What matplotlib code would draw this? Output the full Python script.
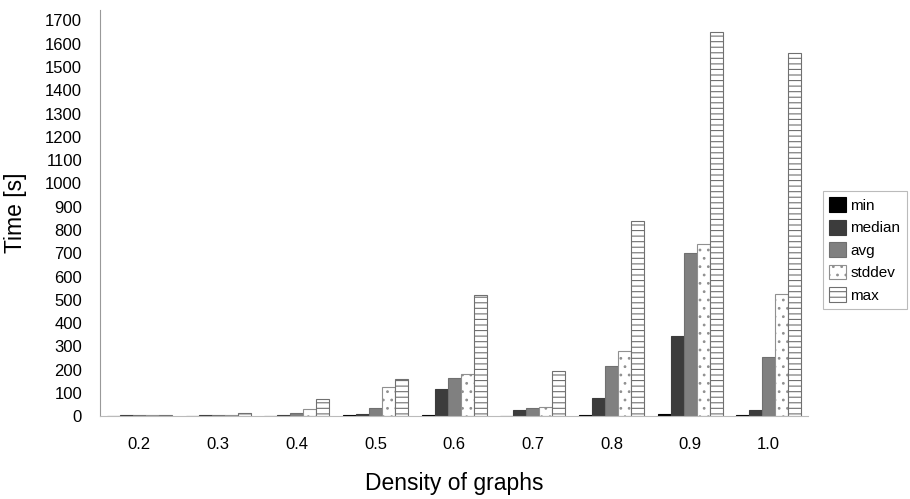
import numpy as np
import matplotlib
matplotlib.use('Agg')
import matplotlib.pyplot as plt

plt.rcParams['font.family'] = ['Liberation Sans', 'DejaVu Sans']
plt.rcParams['hatch.linewidth'] = 0.8

densities = ['0.2', '0.3', '0.4', '0.5', '0.6', '0.7', '0.8', '0.9', '1.0']
t_min    = [1, 1, 2, 3, 5, 2, 4, 8, 6]
t_median = [3, 4, 6, 10, 116, 28, 80, 345, 25]
t_avg    = [4, 6, 15, 35, 165, 35, 215, 700, 255]
t_stddev = [3, 6, 30, 125, 180, 40, 280, 740, 525]
t_max    = [6, 12, 75, 160, 520, 195, 840, 1650, 1560]

series = [
    ('min',    t_min,    dict(facecolor='#000000', edgecolor='#000000')),
    ('median', t_median, dict(facecolor='#3c3c3c', edgecolor='#3c3c3c')),
    ('avg',    t_avg,    dict(facecolor='#808080', edgecolor='#707070')),
    ('stddev', t_stddev, dict(facecolor='white', edgecolor='#909090', hatch='..')),
    ('max',    t_max,    dict(facecolor='white', edgecolor='#707070', hatch='---')),
]

fig = plt.figure(figsize=(9.1, 4.99), dpi=100)
# axes box: x 100..808 px, y 10..416 px
ax = fig.add_axes([0.110, 0.166, 0.778, 0.814])

x = np.arange(len(densities))
w = 0.165
for i, (name, vals, style) in enumerate(series):
    ax.bar(x + (i - 2) * w, vals, w, label=name, linewidth=0.8, **style)

ax.set_xlim(-0.5, len(densities) - 0.5)
ax.set_ylim(0, 1745)
ax.set_yticks(np.arange(0, 1701, 100))
ax.set_xticks(x)
ax.set_xticklabels(densities)
ax.tick_params(length=0, labelsize=12)
ax.tick_params(axis='y', pad=13)
ax.tick_params(axis='x', pad=15)

for s in ['top', 'right']:
    ax.spines[s].set_visible(False)
ax.spines['left'].set_color('#999999')
ax.spines['bottom'].set_color('#bbbbbb')

ax.set_xlabel('Density of graphs', fontsize=16.5)
ax.set_ylabel('Time [s]', fontsize=16.5)
ax.xaxis.set_label_coords(0.5, -0.138)
ax.yaxis.set_label_coords(-0.103, 0.5)

leg = ax.legend(loc='center left', bbox_to_anchor=(1.021, 0.409), fontsize=11,
                frameon=True, fancybox=False, handlelength=1.1, handleheight=1.1,
                handletextpad=0.3, borderpad=0.4, labelspacing=0.45,
                borderaxespad=0)
leg.get_frame().set_edgecolor('#aaaaaa')
leg.get_frame().set_linewidth(0.8)

fig.savefig('out.png', dpi=100, facecolor='white')
